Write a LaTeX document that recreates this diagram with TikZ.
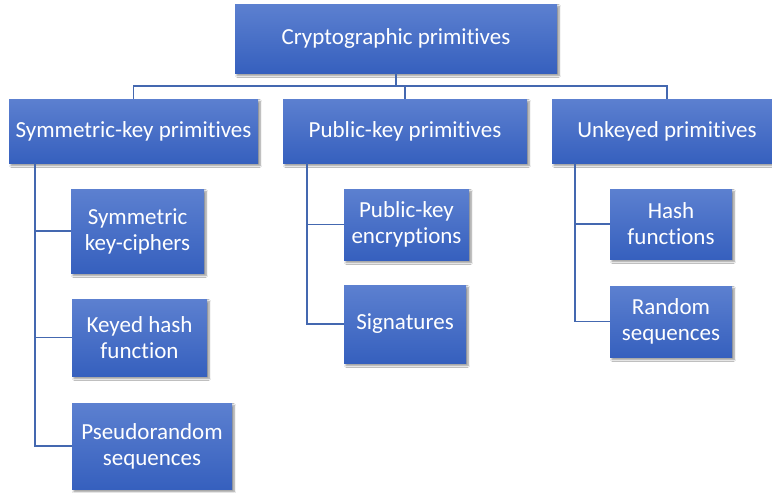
\documentclass[tikz,border=0pt]{standalone}
\usepackage{fontspec}
\setmainfont[Ligatures={NoCommon,NoContextual},Contextuals={NoAlternate}]{Carlito}
\usetikzlibrary{shadows.blur}
\definecolor{boxtop}{RGB}{92,128,208}
\definecolor{boxbot}{RGB}{54,96,190}
\definecolor{wire}{RGB}{68,104,176}
\tikzset{
  box/.style={rectangle, top color=boxtop, bottom color=boxbot, draw=none,
    text=white, align=center, inner sep=0pt,
    font=\fontsize{23}{26}\selectfont,
    blur shadow={shadow xshift=2pt, shadow yshift=-2.5pt, shadow blur steps=6, shadow opacity=45}},
  wirel/.style={draw=wire, line width=1.5pt}
}
\begin{document}
\begin{tikzpicture}[x=1pt,y=-1pt]
\useasboundingbox[fill=white] (0,0) rectangle (772,493);
\node[box, minimum width=322, minimum height=69] (root) at (396,38.5) {Cryptographic primitives};
\node[box, minimum width=249, minimum height=64] (sym) at (133.5,131) {Symmetric-key primitives};
\node[box, minimum width=244, minimum height=64] (pub) at (405,131) {Public-key primitives};
\node[box, minimum width=230, minimum height=64] (unk) at (667,131) {Unkeyed primitives};
\node[box, minimum width=133, minimum height=84] (skc) at (137.5,231) {Symmetric\\key-ciphers};
\node[box, minimum width=135, minimum height=77] (khf) at (139.5,337.5) {Keyed hash\\function};
\node[box, minimum width=160, minimum height=86] (prs) at (152,446) {Pseudorandom\\sequences};
\node[box, minimum width=125, minimum height=71] (pke) at (406.5,224.5) {Public-key\\encryptions};
\node[box, minimum width=122, minimum height=78] (sig) at (405,324) {Signatures};
\node[box, minimum width=122, minimum height=70] (hf) at (671,224) {Hash\\functions};
\node[box, minimum width=122, minimum height=71] (rs) at (671,321.5) {Random\\sequences};
\coordinate (bus) at (396,86);
\coordinate (sl) at (35,163);
\coordinate (pl) at (307,163);
\coordinate (ul) at (575,163);
\begin{scope}[on background layer/.try]
\draw[wirel] (root.south) -- (bus);
\draw[wirel] (sym.north) -- (sym.north |- bus) -- (unk.north |- bus) -- (unk.north);
\draw[wirel] (pub.north |- bus) -- (pub.north);
\draw[wirel] (sl) |- (prs.west);
\draw[wirel] (sl |- skc.west) -- (skc.west);
\draw[wirel] (sl |- khf.west) -- (khf.west);
\draw[wirel] (pl) |- (sig.west);
\draw[wirel] (pl |- pke.west) -- (pke.west);
\draw[wirel] (ul) |- (rs.west);
\draw[wirel] (ul |- hf.west) -- (hf.west);
\end{scope}
\end{tikzpicture}
\end{document}
